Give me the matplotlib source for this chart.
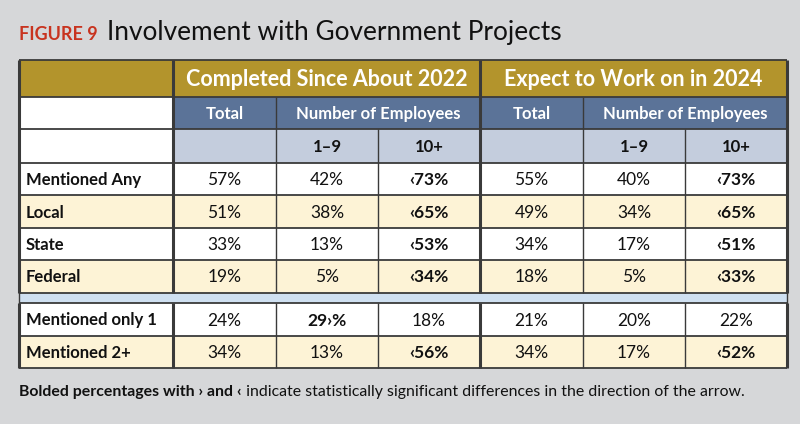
import matplotlib
matplotlib.use("Agg")
import matplotlib.pyplot as plt
from matplotlib.patches import Rectangle

# ---------------- data ----------------
row_labels = ["Mentioned Any", "Local", "State", "Federal", "Mentioned only 1", "Mentioned 2+"]
group_titles = ["Completed Since About 2022", "Expect to Work on in 2024"]
sub_headers = ["Total", "Number of Employees"]
size_labels = ["1\u20139", "10+"]

completed_total = [57, 51, 33, 19, 24, 34]
completed_1_9 = [42, 38, 13, 5, 29, 13]
completed_10p = [73, 65, 53, 34, 18, 56]
expect_total = [55, 49, 34, 18, 21, 34]
expect_1_9 = [40, 34, 17, 5, 20, 17]
expect_10p = [73, 65, 51, 33, 22, 52]

# significance markers: '<' lower-than arrow shown before value, '>' shown after value
completed_total_sig = ["", "", "", "", "", ""]
completed_1_9_sig = ["", "", "", "", ">", ""]
completed_10p_sig = ["<", "<", "<", "<", "", "<"]
expect_total_sig = ["", "", "", "", "", ""]
expect_1_9_sig = ["", "", "", "", "", ""]
expect_10p_sig = ["<", "<", "<", "<", "", "<"]

title_tag = "FIGURE 9"
title_text = "Involvement with Government Projects"
note_bold = "Bolded percentages with \u203a and \u2039"
note_regular = " indicate statistically significant differences in the direction of the arrow."

# ---------------- style ----------------
FONT = "Lato"
BG = "#d6d7d9"
GOLD = "#b3942c"
BLUE = "#5b7398"
LIGHTBLUE = "#c4cddd"
CREAM = "#fdf3d6"
GAPBLUE = "#cfe0f1"
LINE = "#3a3a3a"
RED = "#c8331f"

W, H = 800, 424
fig = plt.figure(figsize=(W / 100, H / 100), dpi=100)
fig.patch.set_facecolor(BG)
ax = fig.add_axes([0, 0, 1, 1])
ax.set_xlim(0, W)
ax.set_ylim(H, 0)
ax.axis("off")

col_x = [19, 173, 276, 378, 480, 583, 685, 787]
hdr_y = [60, 97, 129, 163]
data_y = [163, 195, 228, 260, 293]
gap_y = [293, 303]
data2_y = [303, 336, 368]


def rect(x0, y0, x1, y1, fc, lw=0.0, ec=LINE, z=1):
    ax.add_patch(Rectangle((x0, y0), x1 - x0, y1 - y0, facecolor=fc,
                           edgecolor=ec, linewidth=lw, zorder=z))


def txt(x, y, s, size, weight="normal", color="#111111", ha="center"):
    ax.text(x, y, s, fontsize=size, fontweight=weight, color=color,
            ha=ha, va="center", family=[FONT, "DejaVu Sans"], zorder=5)


def fmt(v, sig):
    if sig == "<":
        return "\u2039%d%%" % v
    if sig == ">":
        return "%d\u203a%%" % v
    return "%d%%" % v


# header rows
rect(col_x[0], hdr_y[0], col_x[-1], hdr_y[1], GOLD)
rect(col_x[0], hdr_y[1], col_x[1], hdr_y[3], "white")
rect(col_x[1], hdr_y[1], col_x[-1], hdr_y[2], BLUE)
rect(col_x[1], hdr_y[2], col_x[-1], hdr_y[3], LIGHTBLUE)

for gi, g in enumerate(group_titles):
    xa, xb = col_x[1 + gi * 3], col_x[4 + gi * 3]
    txt((xa + xb) / 2, (hdr_y[0] + hdr_y[1]) / 2 + 1, g, 15.5, "bold", "white")
    txt((col_x[1 + gi * 3] + col_x[2 + gi * 3]) / 2, (hdr_y[1] + hdr_y[2]) / 2 + 1,
        sub_headers[0], 12, "bold", "white")
    txt((col_x[2 + gi * 3] + col_x[4 + gi * 3]) / 2, (hdr_y[1] + hdr_y[2]) / 2 + 1,
        sub_headers[1], 12, "bold", "white")
    for si, s in enumerate(size_labels):
        txt((col_x[2 + gi * 3 + si] + col_x[3 + gi * 3 + si]) / 2,
            (hdr_y[2] + hdr_y[3]) / 2 + 1, s, 12, "bold")

# data rows
values = [completed_total, completed_1_9, completed_10p, expect_total, expect_1_9, expect_10p]
sigs = [completed_total_sig, completed_1_9_sig, completed_10p_sig,
        expect_total_sig, expect_1_9_sig, expect_10p_sig]
row_bounds = [(data_y[i], data_y[i + 1]) for i in range(4)] + \
             [(data2_y[i], data2_y[i + 1]) for i in range(2)]

for ri, (y0, y1) in enumerate(row_bounds):
    fc = "white" if ri % 2 == 0 else CREAM
    rect(col_x[0], y0, col_x[-1], y1, fc)
    txt(col_x[0] + 7, (y0 + y1) / 2 + 1, row_labels[ri], 12, "bold", ha="left")
    for ci in range(6):
        v = values[ci][ri]
        s = sigs[ci][ri]
        txt((col_x[1 + ci] + col_x[2 + ci]) / 2, (y0 + y1) / 2 + 1, fmt(v, s), 12.5,
            "bold" if s else "normal")

# gap strip
rect(col_x[0], gap_y[0], col_x[-1], gap_y[1], GAPBLUE)

# grid lines
lw = 1.3
for y in [hdr_y[0], hdr_y[1], hdr_y[2], hdr_y[3]] + data_y[1:] + [gap_y[1]] + data2_y[1:]:
    ax.plot([col_x[0], col_x[-1]], [y, y], color=LINE, lw=lw, zorder=3, solid_capstyle="butt")

# vertical lines for header/data blocks
blocks = [(hdr_y[0], data_y[-1]), (gap_y[1], data2_y[-1])]
for (ya, yb) in blocks:
    for xi, x in enumerate(col_x):
        lwx = 2.2 if xi in (0, 1, 4, 7) else 1.0
        top = ya
        if ya == hdr_y[0]:
            if xi in (2, 5):
                top = hdr_y[1]
            elif xi in (3, 6):
                top = hdr_y[2]
        ax.plot([x, x], [top, yb], color=LINE, lw=lwx, zorder=4, solid_capstyle="butt")
for x in (col_x[0], col_x[-1]):
    ax.plot([x, x], [gap_y[0], gap_y[1]], color=LINE, lw=1.0, zorder=4)

# title
ax.text(19, 40, title_tag, fontsize=13, fontweight="bold", color=RED,
        ha="left", va="baseline", family=[FONT, "DejaVu Sans"])
ax.text(107, 40, title_text, fontsize=18.9, fontweight="normal", color="#111111",
        ha="left", va="baseline", family=[FONT, "DejaVu Sans"])

# footnote
n1 = ax.text(19, 392, note_bold, fontsize=11.4, fontweight="bold", color="#111111",
             ha="left", va="center", family=[FONT, "DejaVu Sans"])
fig.canvas.draw()
r = fig.canvas.get_renderer()
bb = n1.get_window_extent(r)
ax.text(bb.x1, 392, note_regular, fontsize=11.4, color="#111111", ha="left", va="center",
        family=[FONT, "DejaVu Sans"])

fig.savefig("out.png", dpi=100, facecolor=BG)
